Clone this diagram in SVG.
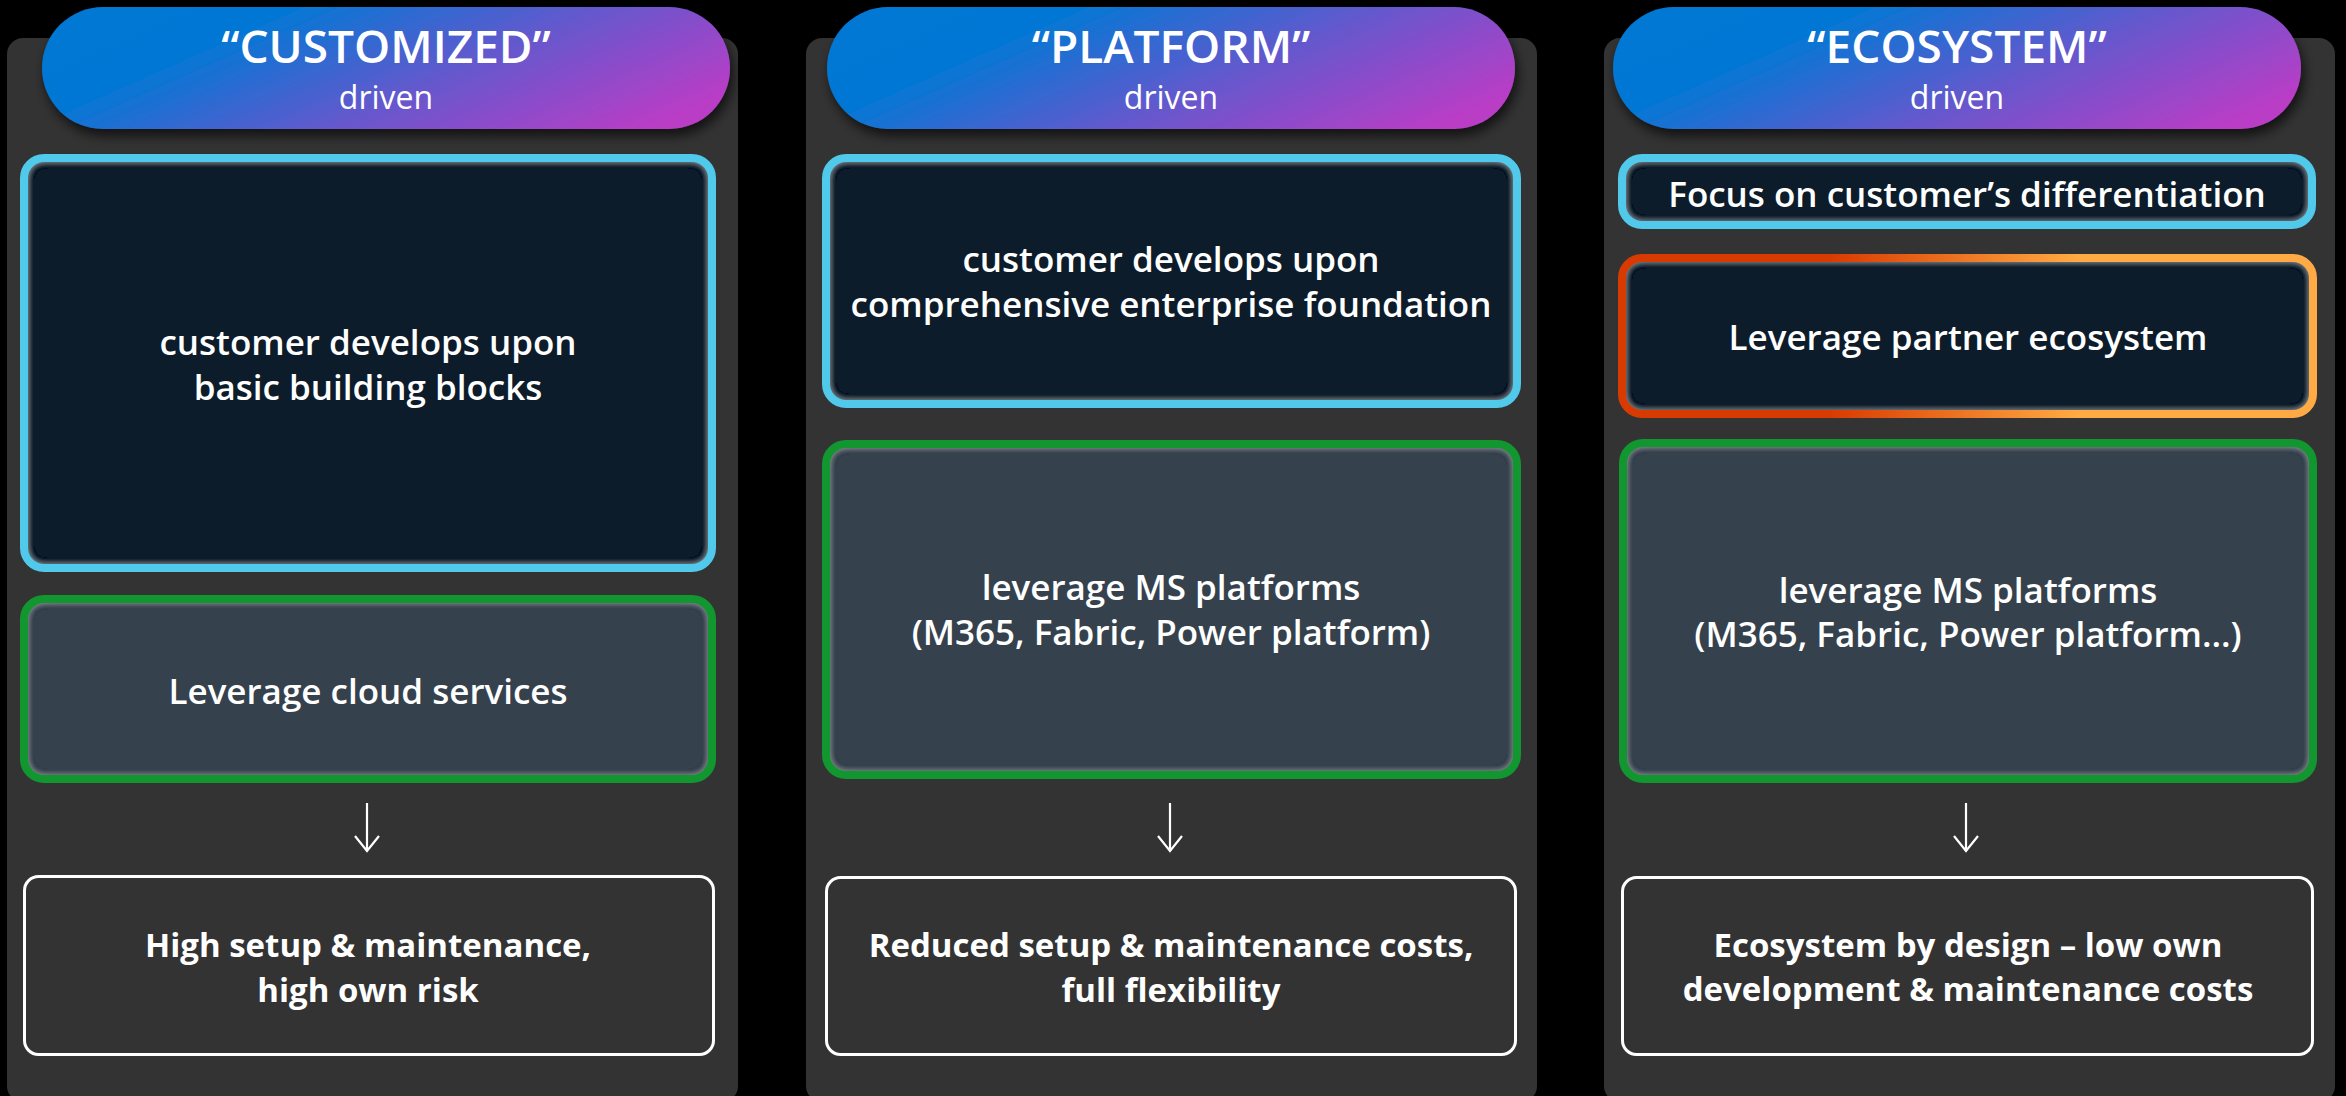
<svg xmlns="http://www.w3.org/2000/svg" width="2346" height="1096" viewBox="0 0 2346 1096">
<defs>
<style>
.panel{fill:#333333}
.pill{fill:url(#pillGrad);filter:url(#shadow)}
.cyanFill{fill:#0B1F2C;filter:url(#innerGlow)}
.greenFill{fill:#36434D;filter:url(#innerGlowG)}
.cyanStroke{fill:none;stroke:#50C9EA;stroke-width:8}
.greenStroke{fill:none;stroke:#12962F;stroke-width:8}
.orangeStroke{fill:none;stroke:url(#orangeGrad);stroke-width:8}
.resBox{fill:#333333;stroke:#FFFFFF;stroke-width:3}
.t{font-family:"Open Sans","Noto Sans","Liberation Sans",sans-serif;fill:#FFFFFF;text-anchor:middle}
.ttl{font-size:46px;font-weight:600}
.sub{font-size:32px;font-weight:400}
.bx{font-size:35px;font-weight:600}
.res{font-size:33px;font-weight:700}
.arrowLine{stroke:#FFFFFF;stroke-width:2.2;fill:none;marker-end:url(#arrowHead)}
</style>
<linearGradient id="pillGrad" x1="0" y1="0.3" x2="1" y2="0.7">
<stop offset="0" stop-color="#0078D4"/>
<stop offset="0.22" stop-color="#0577D4"/>
<stop offset="0.6" stop-color="#6558CD"/>
<stop offset="1" stop-color="#BA3DC6"/>
</linearGradient>
<linearGradient id="orangeGrad" x1="0" y1="0" x2="1" y2="0">
<stop offset="0" stop-color="#D83B01"/>
<stop offset="0.3" stop-color="#D83B01"/>
<stop offset="0.66" stop-color="#FFAA44"/>
<stop offset="1" stop-color="#FFAA44"/>
</linearGradient>
<filter id="shadow" x="-10%" y="-20%" width="120%" height="150%">
<feDropShadow dx="3" dy="7" stdDeviation="6" flood-color="#000000" flood-opacity="0.65"/>
</filter>
<filter id="innerGlow" x="-5%" y="-5%" width="110%" height="110%">
<feFlood flood-color="#A3B0BA" result="c"/>
<feComposite in="c" in2="SourceAlpha" operator="out" result="outside"/>
<feGaussianBlur in="outside" stdDeviation="4.5" result="blur"/>
<feComposite in="blur" in2="SourceAlpha" operator="in" result="inner"/>
<feMerge><feMergeNode in="SourceGraphic"/><feMergeNode in="inner"/><feMergeNode in="inner"/></feMerge>
</filter>
<filter id="innerGlowG" x="-5%" y="-5%" width="110%" height="110%">
<feFlood flood-color="#AEB5BA" result="c"/>
<feComposite in="c" in2="SourceAlpha" operator="out" result="outside"/>
<feGaussianBlur in="outside" stdDeviation="4.5" result="blur"/>
<feComposite in="blur" in2="SourceAlpha" operator="in" result="inner"/>
<feMerge><feMergeNode in="SourceGraphic"/><feMergeNode in="inner"/><feMergeNode in="inner"/></feMerge>
</filter>
<marker id="arrowHead" viewBox="-17 -14 19 28" refX="0" refY="0" markerWidth="19" markerHeight="28" markerUnits="userSpaceOnUse" orient="auto">
<path d="M -15 -12 L 0 0 L -15 12" fill="none" stroke="#FFFFFF" stroke-width="2.2"/>
</marker>
</defs>
<rect x="0" y="0" width="2346" height="1096" fill="#000000"/>

<g id="panels">
<rect class="panel" x="7" y="38" width="731" height="1064" rx="16"/>
<rect class="panel" x="806" y="38" width="731" height="1064" rx="16"/>
<rect class="panel" x="1604" y="38" width="731" height="1064" rx="16"/>
</g>

<g id="header-customized">
<rect class="pill" x="42" y="7" width="688" height="122" rx="61"/>
<text class="t ttl" x="386" y="63">“CUSTOMIZED”</text>
<text class="t sub" x="386" y="109">driven</text>
</g>
<g id="header-platform">
<rect class="pill" x="827" y="7" width="688" height="122" rx="61"/>
<text class="t ttl" x="1171" y="63">“PLATFORM”</text>
<text class="t sub" x="1171" y="109">driven</text>
</g>
<g id="header-ecosystem">
<rect class="pill" x="1613" y="7" width="688" height="122" rx="61"/>
<text class="t ttl" x="1957" y="63">“ECOSYSTEM”</text>
<text class="t sub" x="1957" y="109">driven</text>
</g>

<g id="c1-basic">
<rect class="cyanFill" x="24" y="158" width="688" height="410" rx="20"/>
<rect class="cyanStroke" x="24" y="158" width="688" height="410" rx="20"/>
<text class="t bx" x="368" y="355">customer develops upon</text>
<text class="t bx" x="368" y="400">basic building blocks</text>
</g>
<g id="c1-cloud">
<rect class="greenFill" x="24" y="599" width="688" height="180" rx="20"/>
<rect class="greenStroke" x="24" y="599" width="688" height="180" rx="20"/>
<text class="t bx" x="368" y="704">Leverage cloud services</text>
</g>
<g id="c1-result">
<rect class="resBox" x="24.5" y="876.5" width="689" height="178" rx="14"/>
<text class="t res" x="368" y="957">High setup &amp; maintenance,</text>
<text class="t res" x="368" y="1002">high own risk</text>
</g>

<g id="c2-foundation">
<rect class="cyanFill" x="826" y="158" width="691" height="246" rx="20"/>
<rect class="cyanStroke" x="826" y="158" width="691" height="246" rx="20"/>
<text class="t bx" x="1171" y="272">customer develops upon</text>
<text class="t bx" x="1171" y="317">comprehensive enterprise foundation</text>
</g>
<g id="c2-ms">
<rect class="greenFill" x="826" y="444" width="691" height="331" rx="20"/>
<rect class="greenStroke" x="826" y="444" width="691" height="331" rx="20"/>
<text class="t bx" x="1171" y="600">leverage MS platforms</text>
<text class="t bx" x="1171" y="645">(M365, Fabric, Power platform)</text>
</g>
<g id="c2-result">
<rect class="resBox" x="826.5" y="877.5" width="689" height="177" rx="14"/>
<text class="t res" x="1171" y="957">Reduced setup &amp; maintenance costs,</text>
<text class="t res" x="1171" y="1002">full flexibility</text>
</g>

<g id="c3-focus">
<rect class="cyanFill" x="1622" y="158" width="690" height="67" rx="20"/>
<rect class="cyanStroke" x="1622" y="158" width="690" height="67" rx="20"/>
<text class="t bx" x="1967" y="207">Focus on customer’s differentiation</text>
</g>
<g id="c3-partner">
<rect class="cyanFill" x="1622" y="258" width="691" height="156" rx="20"/>
<rect class="orangeStroke" x="1622" y="258" width="691" height="156" rx="20"/>
<text class="t bx" x="1968" y="350">Leverage partner ecosystem</text>
</g>
<g id="c3-ms">
<rect class="greenFill" x="1623" y="443" width="690" height="336" rx="20"/>
<rect class="greenStroke" x="1623" y="443" width="690" height="336" rx="20"/>
<text class="t bx" x="1968" y="603">leverage MS platforms</text>
<text class="t bx" x="1968" y="647">(M365, Fabric, Power platform…)</text>
</g>
<g id="c3-result">
<rect class="resBox" x="1622.5" y="877.5" width="690" height="177" rx="14"/>
<text class="t res" x="1968" y="957">Ecosystem by design – low own</text>
<text class="t res" x="1968" y="1001">development &amp; maintenance costs</text>
</g>

<g id="connectors">
<line class="arrowLine" x1="367" y1="803" x2="367" y2="851"/>
<line class="arrowLine" x1="1170" y1="803" x2="1170" y2="851"/>
<line class="arrowLine" x1="1966" y1="803" x2="1966" y2="851"/>
</g>
</svg>
